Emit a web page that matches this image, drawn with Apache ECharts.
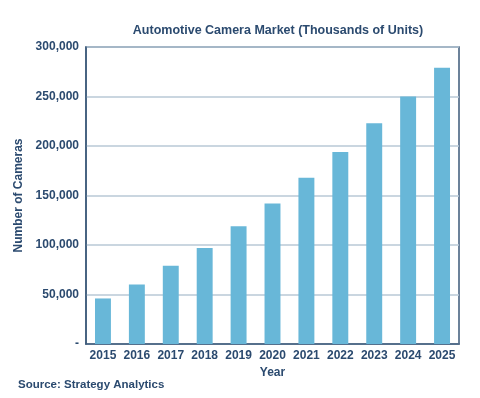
<!DOCTYPE html>
<html>
<head>
<meta charset="utf-8">
<script src="https://cdn.jsdelivr.net/npm/echarts@6/dist/echarts.min.js"></script>
<style>
  html, body { margin: 0; padding: 0; background: #fff; }
  #chart { width: 480px; height: 398px; }
</style>
</head>
<body>
<div id="chart"></div>
<script>
// 年份 + 摄像头数量（千台）
const years = ['2015', '2016', '2017', '2018', '2019', '2020', '2021', '2022', '2023', '2024', '2025']
const cameras = [46000, 60000, 79000, 97000, 119000, 142000, 168000, 194000, 223000, 250000, 279000]

const navy = '#2b4a6f'
const chart = echarts.init(document.getElementById('chart'))

chart.setOption({
  animation: false,
  textStyle: { fontFamily: 'Liberation Sans, Arial, sans-serif' },
  title: {
    text: 'Automotive Camera Market (Thousands of Units)',
    left: 273,
    textAlign: 'center',
    top: 19,
    textStyle: { fontSize: 12.5, fontWeight: 'bold', color: navy }
  },
  graphic: [{
    type: 'text',
    left: 18,
    top: 379,
    style: { text: 'Source: Strategy Analytics', fontSize: 11.5, fontWeight: 'bold', fill: navy, fontFamily: 'Liberation Sans, Arial, sans-serif' }
  }],
  grid: {
    left: 86, right: 21, top: 47, bottom: 54,
    show: true, borderColor: '#3d5a7a', borderWidth: 1.5
  },
  xAxis: {
    type: 'category',
    data: years,
    name: 'Year',
    nameLocation: 'middle',
    nameGap: 22,
    nameTextStyle: { fontSize: 12, fontWeight: 'bold', color: navy },
    axisLine: { lineStyle: { color: '#3d5a7a', width: 1.5 } },
    axisTick: { show: false },
    axisLabel: { interval: 0, fontSize: 12, fontWeight: 'bold', color: navy, margin: 6 }
  },
  yAxis: {
    type: 'value',
    min: 0, max: 300000, interval: 50000,
    name: 'Number of Cameras',
    nameLocation: 'middle',
    nameGap: 57,
    nameTextStyle: { fontSize: 12, fontWeight: 'bold', color: navy },
    axisLine: { show: true, lineStyle: { color: '#3d5a7a', width: 1.5 } },
    axisTick: { show: false },
    axisLabel: {
      fontSize: 12, fontWeight: 'bold', color: navy, margin: 7,
      formatter: v => v === 0 ? '-' : v.toLocaleString('en-US')
    },
    splitLine: { lineStyle: { color: '#b8c8d6', width: 1.5 } }
  },
  series: [{
    type: 'bar',
    data: cameras,
    barWidth: '47%',
    itemStyle: { color: '#68b7d8' }
  }]
})
</script>
</body>
</html>
